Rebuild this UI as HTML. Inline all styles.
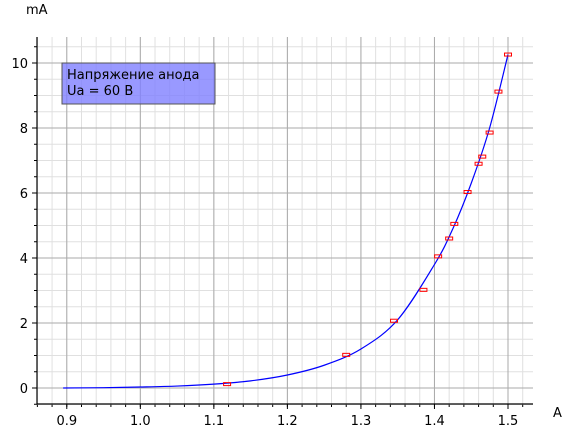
<!DOCTYPE html>
<html><head><meta charset="utf-8"><style>
body{margin:0;background:#fff;}
svg text{font-family:"DejaVu Sans","Liberation Sans",sans-serif;}
</style></head><body>
<svg id="c" width="568" height="439"></svg>
<script>
const pointX=[1.118,1.28,1.345,1.385,1.405,1.42,1.427,1.445,1.46,1.465,1.475,1.487,1.5];
const pointY=[0.12,1.02,2.07,3.02,4.05,4.6,5.05,6.03,6.9,7.12,7.86,9.12,10.26];
const curveX=[0.895,0.95,1.0,1.05,1.1,1.15,1.2,1.25,1.3,1.35,1.4,1.425,1.45,1.475,1.5];
const curveY=[0.0,0.01,0.03,0.06,0.12,0.22,0.4,0.7,1.2,2.1,3.8,4.9,6.3,8.0,10.26];
const xTicks=[0.9,1.0,1.1,1.2,1.3,1.4,1.5];
const yTicks=[0,2,4,6,8,10];
const X0=37,X1=533,Y0=37,Y1=404;
const xMin=0.8595,xMax=1.534;
const sx=v=>X0+(v-xMin)/(xMax-xMin)*(X1-X0);
const sy=v=>388-(v)*32.5;
const svg=document.getElementById('c');const NS='http://www.w3.org/2000/svg';
function mk(t,a,p){const e=document.createElementNS(NS,t);for(const k in a)e.setAttribute(k,a[k]);(p||svg).appendChild(e);return e;}
for(let v=0.86;v<=1.534;v+=0.02){const x=sx(v);
const l=mk('line',{x1:x,x2:x,y1:Y0,y2:Y1,stroke:'#e0e0e0','stroke-width':1});

const t=mk('line',{x1:x,x2:x,y1:Y1,y2:Y1+3,stroke:'#000','stroke-width':1});
}
for(let v=-0.5;v<=10.8;v+=0.5){const y=sy(v);
const l=mk('line',{x1:X0,x2:X1,y1:y,y2:y,stroke:'#e0e0e0','stroke-width':1});

const t=mk('line',{x1:X0-3,x2:X0,y1:y,y2:y,stroke:'#000','stroke-width':1});
}
xTicks.forEach(v=>{const x=sx(v);
const l=mk('line',{x1:x,x2:x,y1:Y0,y2:Y1,stroke:'#aaa','stroke-width':1});

const t=mk('line',{x1:x,x2:x,y1:Y1,y2:Y1+5,stroke:'#000','stroke-width':1});

const tx=mk('text',{x:x,y:425,'text-anchor':'middle','font-size':13});tx.textContent=v.toFixed(1);
});
yTicks.forEach(v=>{const y=sy(v);
const l=mk('line',{x1:X0,x2:X1,y1:y,y2:y,stroke:'#aaa','stroke-width':1});

const t=mk('line',{x1:X0-5,x2:X0,y1:y,y2:y,stroke:'#000','stroke-width':1});

const tx=mk('text',{x:28,y:y+5,'text-anchor':'end','font-size':13});tx.textContent=v;
});
const ax=mk('path',{d:`M${X0},${Y0}V${Y1}H${X1}`,fill:'none',stroke:'#000','stroke-width':1.2});

const P=curveX.map((v,i)=>[sx(v),sy(curveY[i])]);
let d=`M${P[0][0]},${P[0][1]}`;
for(let i=0;i<P.length-1;i++){const p0=P[Math.max(0,i-1)],p1=P[i],p2=P[i+1],p3=P[Math.min(P.length-1,i+2)];
d+=`C${p1[0]+(p2[0]-p0[0])/6},${p1[1]+(p2[1]-p0[1])/6} ${p2[0]-(p3[0]-p1[0])/6},${p2[1]-(p3[1]-p1[1])/6} ${p2[0]},${p2[1]}`;}
const c=mk('path',{d:d,fill:'none',stroke:'#0000ff','stroke-width':1.2});

pointX.forEach((v,i)=>{const r=mk('rect',{x:sx(v)-3.5,y:sy(pointY[i])-1.5,width:7,height:3,fill:'none',stroke:'#ff0000','stroke-width':1});
});
const lg=mk('rect',{x:62,y:63,width:153,height:41,fill:'#8080ff','fill-opacity':0.8,stroke:'#555','stroke-width':1});

const t1=mk('text',{x:67,y:79,'font-size':13});t1.textContent='Напряжение анода';

const t2=mk('text',{x:67,y:95,'font-size':13});t2.textContent='Ua = 60 B';

const yl=mk('text',{x:26,y:14,'font-size':13});yl.textContent='mA';

const xl=mk('text',{x:553,y:417,'font-size':13});xl.textContent='A';

</script>
</body></html>
